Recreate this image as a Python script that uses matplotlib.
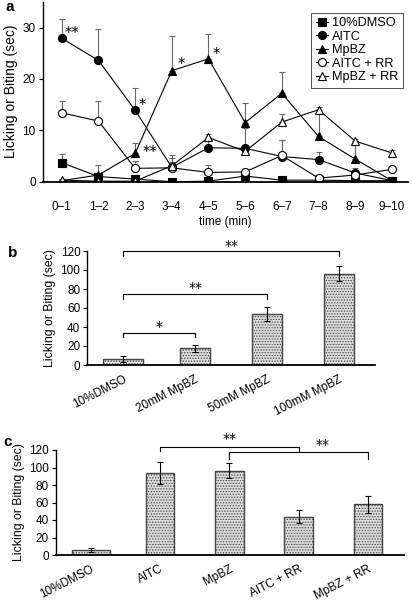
import numpy as np
import matplotlib
matplotlib.use("Agg")
import matplotlib.pyplot as plt

plt.rcParams['font.family'] = ['Liberation Sans', 'DejaVu Sans']
plt.rcParams['hatch.linewidth'] = 0.6

# panel a: time course
times = ['0–1', '1–2', '2–3', '3–4', '4–5', '5–6', '6–7', '7–8', '8–9', '9–10']
dmso = [3.7, 1.0, 0.5, 0.0, 0.1, 1.1, 0.3, 0.3, 0.2, 0.2]
dmso_err = [1.6, 0.4, 0.3, 0.2, 0.2, 0.4, 0.2, 0.2, 0.2, 0.2]
aitc = [27.9, 23.6, 13.9, 2.8, 6.6, 6.5, 4.9, 4.3, 1.7, 0.2]
aitc_err = [3.7, 6.2, 4.3, 1.0, 1.7, 4.0, 3.3, 1.5, 1.0, 0.2]
mpbz = [0.2, 1.3, 5.5, 21.6, 23.9, 11.5, 17.2, 8.8, 4.4, 0.2]
mpbz_err = [0.2, 1.9, 2.0, 6.7, 4.8, 3.8, 4.1, 4.8, 3.4, 0.2]
aitc_rr = [13.4, 11.8, 2.6, 2.7, 1.8, 1.9, 5.1, 0.7, 1.3, 2.4]
aitc_rr_err = [2.3, 3.9, 1.5, 2.0, 1.4, 0.5, 3.1, 0.3, 0.6, 0.5]
mpbz_rr = [0.3, 0.1, 0.1, 3.1, 8.6, 5.9, 11.6, 14.0, 7.9, 5.6]
mpbz_rr_err = [0.2, 0.2, 0.2, 2.0, 0.6, 0.6, 1.5, 0.6, 0.5, 0.6]

# panel b: dose response
b_labels = ['10%DMSO', '20mM MpBZ', '50mM MpBZ', '100mM MpBZ']
b_vals = [6.0, 17.5, 53.5, 96.0]
b_err = [3.3, 3.5, 7.5, 7.8]

# panel c: ruthenium red
c_labels = ['10%DMSO', 'AITC', 'MpBZ', 'AITC + RR', 'MpBZ + RR']
c_vals = [5.7, 93.3, 96.4, 43.8, 57.9]
c_err = [2.5, 12.5, 8.4, 7.6, 9.9]

W, H = 412, 607
fig = plt.figure(figsize=(W / 100, H / 100), dpi=100)
STAR = ['DejaVu Sans']


def rect(x0, x1, y_top, y_bot):
    return [x0 / W, 1 - y_bot / H, (x1 - x0) / W, (y_bot - y_top) / H]


def style_axes(ax):
    for s in ['top', 'right']:
        ax.spines[s].set_visible(False)
    ax.spines['left'].set_linewidth(1.0)
    ax.spines['bottom'].set_linewidth(1.3)
    ax.tick_params(axis='y', length=3, width=0.8, labelsize=8.5, pad=2)


# ---- a ----
ax = fig.add_axes(rect(42.7, 408, 1.8, 181.7))
x = np.arange(len(times))
series = [
    (dmso, dmso_err, 's', 'black', '10%DMSO'),
    (aitc, aitc_err, 'o', 'black', 'AITC'),
    (mpbz, mpbz_err, '^', 'black', 'MpBZ'),
    (aitc_rr, aitc_rr_err, 'o', 'white', 'AITC + RR'),
    (mpbz_rr, mpbz_rr_err, '^', 'white', 'MpBZ + RR'),
]
for vals, err, m, fc, lab in series:
    err = np.array(err)
    ax.errorbar(x, vals, yerr=[np.zeros_like(err), err], fmt='none',
                ecolor='#666666', elinewidth=0.8, capsize=2, capthick=0.8)
for vals, err, m, fc, lab in series:
    ax.plot(x, vals, '-', marker=m, color='black', mfc=fc, mec='black',
            ms=5.8, lw=0.8, mew=0.8, label=lab)
ax.set_xlim(-0.52, 9.44)
ax.set_ylim(0, 35)
ax.set_yticks([0, 10, 20, 30])
ax.set_xticks(x)
ax.set_xticklabels(times)
style_axes(ax)
ax.tick_params(axis='x', length=0, labelsize=8.5, pad=14)
ax.set_xlabel('time (min)', fontsize=8.5, labelpad=2)
ax.set_ylabel('Licking or Biting (sec)', fontsize=10, labelpad=3)
leg = ax.legend(loc='upper right', bbox_to_anchor=(0.985, 0.94), fontsize=9.2,
                frameon=True, fancybox=False, edgecolor='black',
                handlelength=1.0, handletextpad=0.25, labelspacing=0.12,
                borderpad=0.35, borderaxespad=0)
leg.get_frame().set_linewidth(0.6)
for tx, ty, s in [(0.08, 28.8, '**'), (2.1, 14.8, '*'), (3.15, 22.8, '*'),
                  (4.1, 24.8, '*'), (2.2, 5.6, '**')]:
    ax.text(tx, ty, s, fontsize=10.5, ha='left', va='center', family=STAR)
fig.text(5 / W, 1 - 7 / H, 'a', fontsize=11, fontweight='bold', va='center')


def bars(ax, labels, vals, err, widths):
    xb = np.arange(len(labels))
    ax.bar(xb, vals, width=widths, color='#dcdcdc', edgecolor='#444444',
           hatch='......', linewidth=1.0, zorder=2)
    ax.errorbar(xb, vals, yerr=err, fmt='none', ecolor='black',
                elinewidth=0.8, capsize=2.5, capthick=0.8, zorder=3)
    ax.set_xticks(xb)
    ax.set_xticklabels(labels, rotation=27, ha='right', rotation_mode='anchor')
    ax.set_ylim(0, 120)
    ax.set_yticks(np.arange(0, 121, 20))
    style_axes(ax)
    ax.tick_params(axis='x', length=0, labelsize=8.5, pad=6)
    ax.set_ylabel('Licking or Biting (sec)', fontsize=8.8, labelpad=3)


def bracket(ax, x0, x1, y, drop0, drop1, label, tx, ty):
    ax.plot([x0, x0, x1, x1], [y - drop0, y, y, y - drop1], color='black',
            lw=0.8, clip_on=False)
    ax.text(tx, ty, label, fontsize=10, ha='center', va='center',
            clip_on=False, family=STAR)


# ---- b ----
ax = fig.add_axes(rect(87.3, 375, 251, 365))
bars(ax, b_labels, b_vals, b_err, [0.55, 0.41, 0.41, 0.41])
ax.set_xlim(-0.5, 3.5)
bracket(ax, 0, 1, 34, 5, 5, '*', 0.5, 40)
bracket(ax, 0, 2, 74.5, 5, 5, '**', 1.0, 81)
bracket(ax, 0, 3, 119.5, 5, 5, '**', 1.5, 125.5)
fig.text(8 / W, 1 - 253 / H, 'b', fontsize=11, fontweight='bold', va='center')

# ---- c ----
ax = fig.add_axes(rect(56, 404, 450, 555))
bars(ax, c_labels, c_vals, c_err, [0.55, 0.41, 0.41, 0.41, 0.41])
ax.set_xlim(-0.5, 4.52)
bracket(ax, 1, 3, 123.8, 5, 5, '**', 2.0, 133)
bracket(ax, 2, 4, 118, 8, 8, '**', 3.35, 126)
fig.text(3 / W, 1 - 442 / H, 'c', fontsize=11, fontweight='bold', va='center')

fig.savefig('out.png', dpi=100)
